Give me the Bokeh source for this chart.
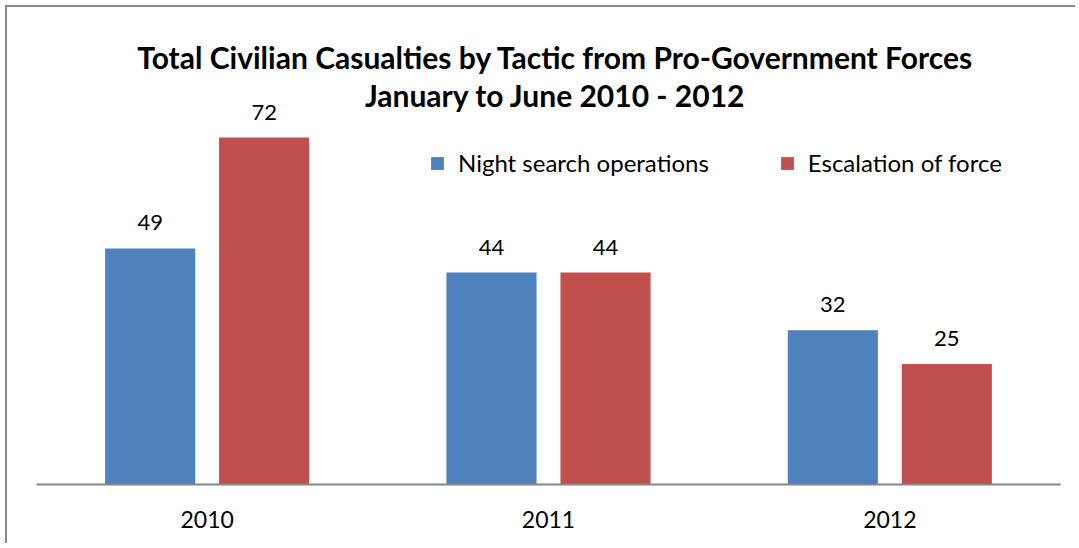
from bokeh.plotting import figure
from bokeh.models import ColumnDataSource, FactorRange, Legend, LegendItem, Label
from bokeh.transform import dodge
from bokeh.embed import file_html
from bokeh.resources import INLINE

years = ["2010", "2011", "2012"]
night_search = [49, 44, 32]
escalation = [72, 44, 25]
series_names = ["Night search operations", "Escalation of force"]
colors = ["#4F81BD", "#C0504D"]
title_line1 = "Total Civilian Casualties by Tactic from Pro-Government Forces"
title_line2 = "January to June 2010 - 2012"

FONT = "Lato"

src = ColumnDataSource(dict(
    year=years,
    night=night_search,
    esc=escalation,
    night_lbl=[str(v) for v in night_search],
    esc_lbl=[str(v) for v in escalation],
))

p = figure(
    x_range=FactorRange(*years, range_padding=0),
    y_range=(0, 99),
    width=1070, height=538,
    output_backend="svg", toolbar_location=None,
    min_border_left=29, min_border_right=17, min_border_bottom=61, min_border_top=0,
)
p.styles = {"border-left": "2px solid #898989", "border-top": "2px solid #898989",
            "margin-left": "5px", "margin-top": "5px"}
p.outline_line_color = None
p.title.visible = False

for txt, ypos in ((title_line1, 428), (title_line2, 390)):
    p.add_layout(Label(x=519, y=ypos, x_units="screen", y_units="screen", text=txt,
                       text_align="center", text_baseline="middle",
                       text_font=FONT, text_font_size="30px", text_font_style="bold",
                       text_color="#000000"))

off = 0.167
w = 0.264
r1 = p.vbar(x=dodge("year", -off, range=p.x_range), top="night", width=w, source=src,
            fill_color=colors[0], line_color=None)
r2 = p.vbar(x=dodge("year", off, range=p.x_range), top="esc", width=w, source=src,
            fill_color=colors[1], line_color=None)

p.text(x=dodge("year", -off, range=p.x_range), y="night", text="night_lbl", source=src,
       text_align="center", text_baseline="bottom", y_offset=-18,
       text_font=dict(value=FONT), text_font_size="22px", text_color="#000000")
p.text(x=dodge("year", off, range=p.x_range), y="esc", text="esc_lbl", source=src,
       text_align="center", text_baseline="bottom", y_offset=-18,
       text_font=dict(value=FONT), text_font_size="22px", text_color="#000000")

legend = Legend(items=[LegendItem(label=series_names[0], renderers=[r1]),
                       LegendItem(label=series_names[1], renderers=[r2])],
                orientation="horizontal", location=(393, 307),
                glyph_width=16, glyph_height=16, label_standoff=13, spacing=70,
                padding=0, margin=0, border_line_color=None, background_fill_alpha=0,
                label_text_font=FONT, label_text_font_size="24px", label_text_color="#000000")
p.add_layout(legend, "center")

p.yaxis.visible = False
p.xgrid.grid_line_color = None
p.ygrid.grid_line_color = None
p.xaxis.axis_line_color = "#868686"
p.xaxis.axis_line_width = 2
p.xaxis.major_tick_line_color = None
p.xaxis.minor_tick_line_color = None
p.xaxis.major_label_standoff = 20
p.xaxis.major_label_text_font = FONT
p.xaxis.major_label_text_font_size = "23px"
p.xaxis.major_label_text_color = "#000000"

open("out.html", "w").write(file_html(p, INLINE))
